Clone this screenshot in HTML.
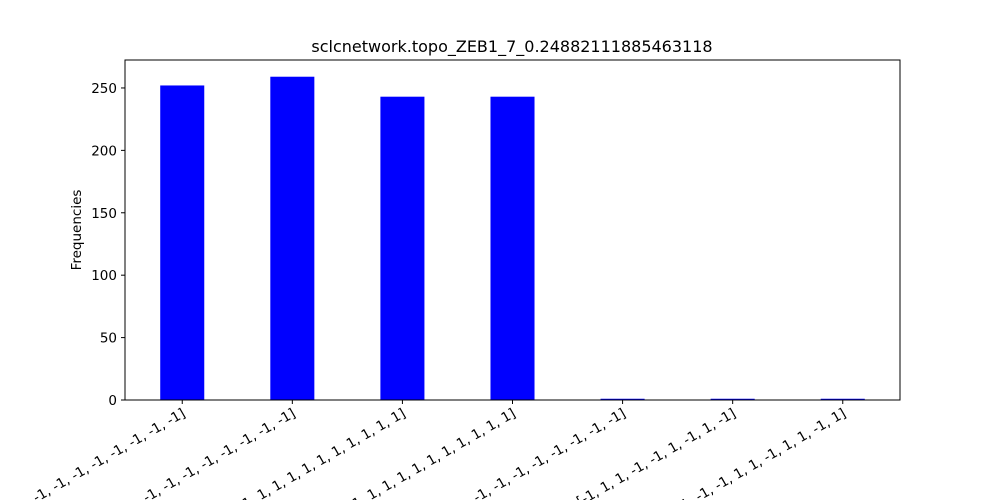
<!DOCTYPE html>
<html><head><meta charset="utf-8"><style>
html,body{margin:0;background:#fff;width:1000px;height:500px;overflow:hidden;font-family:"DejaVu Sans","Liberation Sans",sans-serif;}
svg{display:block;}
svg text{font-family:"DejaVu Sans","Liberation Sans",sans-serif;}
</style></head><body>
<svg id="chart" width="1000" height="500" overflow="hidden" xmlns="http://www.w3.org/2000/svg">
<rect x="0" y="0" width="1000" height="500" fill="#fff"/>
<text x="512" y="52" text-anchor="middle" font-size="16" fill="#000">sclcnetwork.topo_ZEB1_7_0.24882111885463118</text>
<text transform="translate(81,230) rotate(-90)" text-anchor="middle" font-size="13.5" fill="#000">Frequencies</text>
<g id="bars"></g><g id="yticks"></g><g id="xticks"></g>
<rect x="125" y="60" width="775" height="340" fill="none" stroke="#000" stroke-width="1"/>
</svg>
<script>
const categories=["[-1, -1, -1, -1, -1, -1, -1, -1, -1, -1]","[1, -1, -1, -1, -1, -1, -1, -1, -1, -1]","[1, 1, 1, 1, 1, 1, 1, 1, 1, 1, 1]","[-1, 1, 1, 1, 1, 1, 1, 1, 1, 1, 1]","[-1, -1, -1, -1, -1, -1, -1, -1, -1, -1]","[-1, 1, 1, -1, -1, 1, -1, 1, -1]","[1, -1, -1, 1, 1, -1, 1, 1, -1, 1]"];
const values=[252,259,243,243,1,1,1];
const yTicks=[0,50,100,150,200,250];
const NS="http://www.w3.org/2000/svg";
const L=125,R=900,T=60,B=400;
const ymax=272.4;
const y=v=>B-(v/ymax)*(B-T);
const unit=(R-L)/(categories.length-1+0.4+0.64);
const x=i=>L+(0.52+i)*unit;
const bw=0.4*unit;
const bars=document.getElementById('bars'),yt=document.getElementById('yticks'),xt=document.getElementById('xticks');
values.forEach((v,i)=>{const r=document.createElementNS(NS,'rect');


r.setAttribute('x',x(i)-bw/2);r.setAttribute('y',y(v));r.setAttribute('width',bw);r.setAttribute('height',B-y(v));r.setAttribute('fill','#0000ff');bars.appendChild(r);});
yTicks.forEach(t=>{const l=document.createElementNS(NS,'line');


l.setAttribute('x1',L-4);l.setAttribute('x2',L);l.setAttribute('y1',y(t));l.setAttribute('y2',y(t));l.setAttribute('stroke','#000');yt.appendChild(l);
const s=document.createElementNS(NS,'text');


s.setAttribute('x',L-8);s.setAttribute('y',y(t)+5);s.setAttribute('text-anchor','end');s.setAttribute('font-size','13.5');s.textContent=t;yt.appendChild(s);});
categories.forEach((c,i)=>{const l=document.createElementNS(NS,'line');


l.setAttribute('x1',x(i));l.setAttribute('x2',x(i));l.setAttribute('y1',B);l.setAttribute('y2',B+4);l.setAttribute('stroke','#000');xt.appendChild(l);
const s=document.createElementNS(NS,'text');


s.setAttribute('transform','translate('+(x(i)+4)+','+(B+16)+') rotate(-30)');s.setAttribute('text-anchor','end');s.setAttribute('font-size','13.5');s.textContent=c;xt.appendChild(s);});
</script>
</body></html>
